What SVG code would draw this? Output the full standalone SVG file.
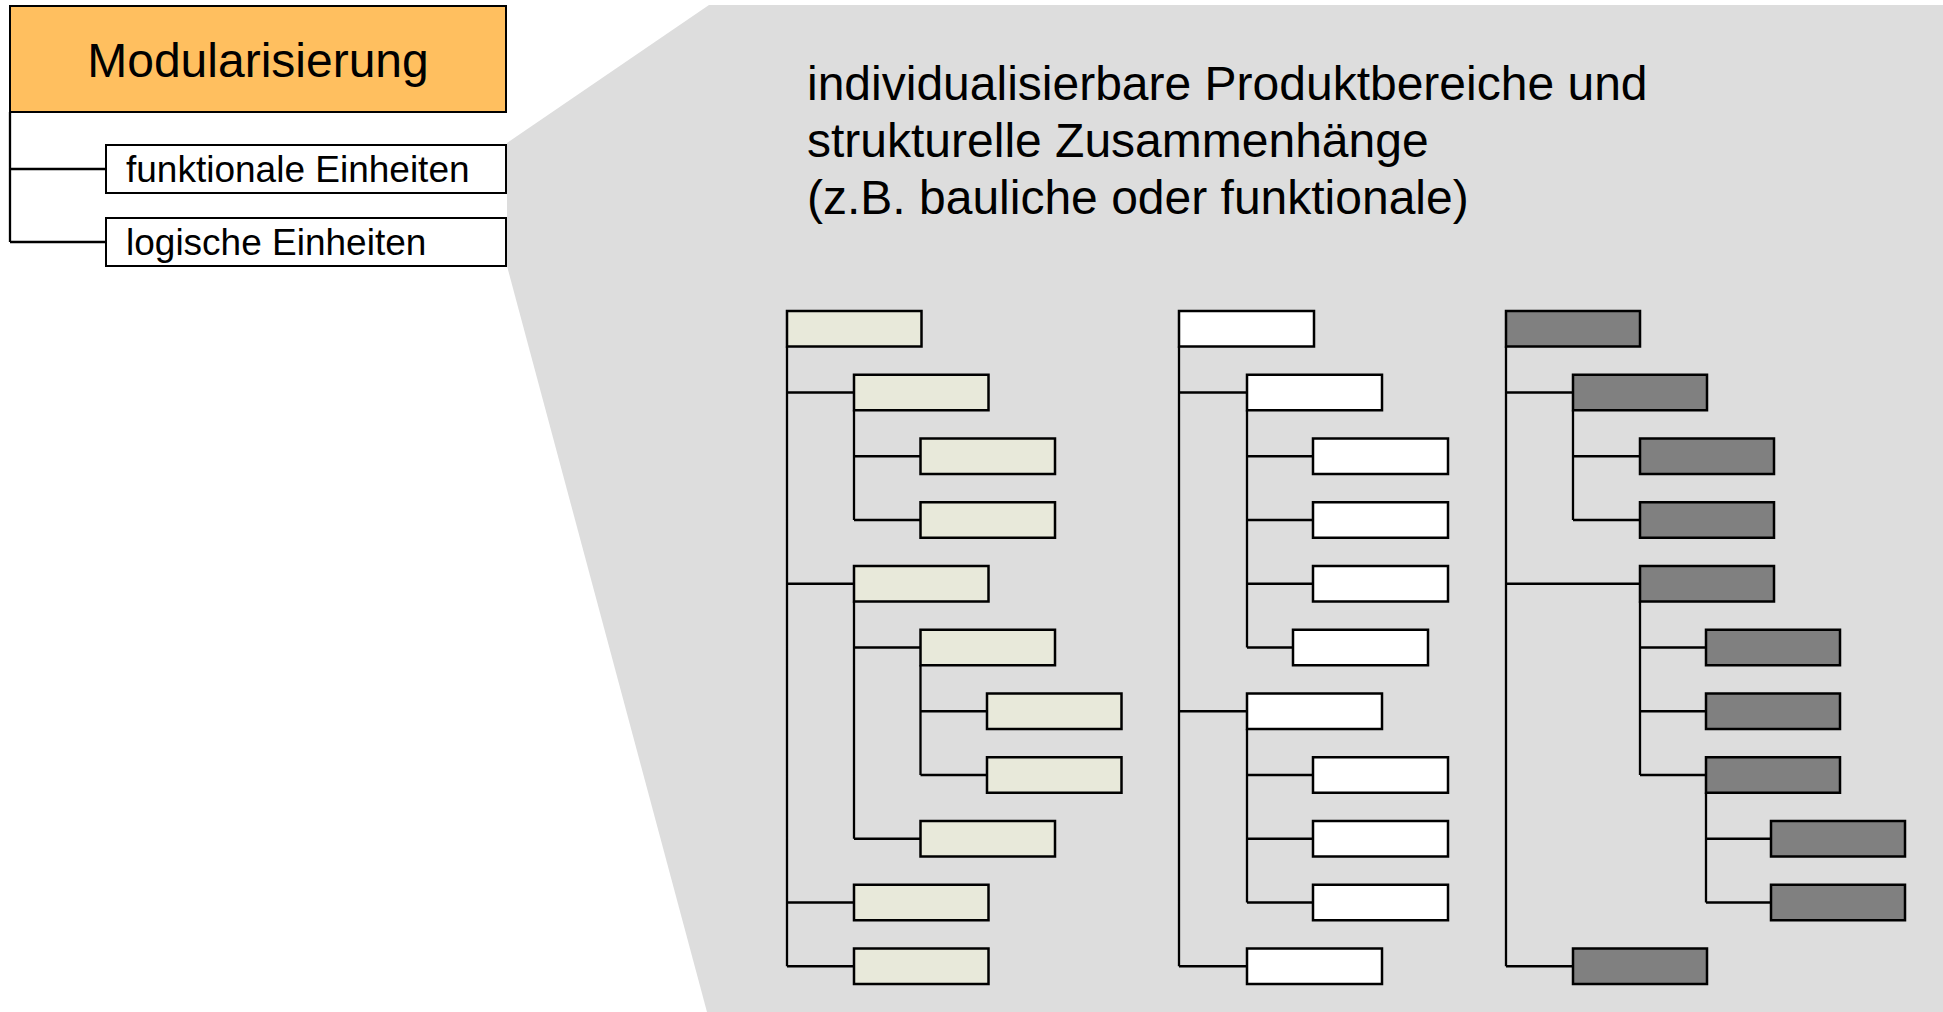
<svg xmlns="http://www.w3.org/2000/svg" width="1943" height="1012" viewBox="0 0 1943 1012">
<style>
text{font-family:"Liberation Sans",Arial,sans-serif;fill:#000}
.n rect{stroke:#000;stroke-width:2.5}
.b1{fill:#E8E9DA}.b2{fill:#FFFFFF}.b3{fill:#808080}
.c path{fill:none;stroke:#000;stroke-width:2.3}
</style>
<rect width="1943" height="1012" fill="#fff"/>
<polygon points="709,5 1943,5 1943,1012 707,1012 507,266 507,143" fill="#DDDDDD"/>
<g id="modularisierung" class="n"><rect x="10" y="6" width="496" height="106" fill="#FFBF5F" style="stroke-width:2"/><text x="258" y="77" font-size="48" text-anchor="middle">Modularisierung</text></g>
<g id="funktionale" class="n"><rect x="106" y="145" width="400" height="48" fill="#fff" style="stroke-width:2"/><text x="126" y="182" font-size="37">funktionale Einheiten</text></g>
<g id="logische" class="n"><rect x="106" y="218" width="400" height="48" fill="#fff" style="stroke-width:2"/><text x="126" y="255" font-size="37">logische Einheiten</text></g>
<g id="beschreibung"><text font-size="48"><tspan x="807" y="100">individualisierbare Produktbereiche und</tspan><tspan x="807" y="157">strukturelle Zusammenhänge</tspan><tspan x="807" y="214">(z.B. bauliche oder funktionale)</tspan></text></g>
<g id="connectors" class="c">
<path d="M10,112V242M10,169H106M10,242H106"/>
<path d="M787,346.5V966.25M787,392.5H854M787,583.75H854M787,902.5H854M787,966.25H854M854,410.25V520M854,456.25H920.5M854,520H920.5M854,601.5V838.75M854,647.5H920.5M854,838.75H920.5M920.5,665.25V775M920.5,711.25H987M920.5,775H987"/>
<path d="M1179,346.5V966.25M1179,392.5H1247M1179,711.25H1247M1179,966.25H1247M1247,410.25V647.5M1247,456.25H1313M1247,520H1313M1247,583.75H1313M1247,647.5H1293M1247,729V902.5M1247,775H1313M1247,838.75H1313M1247,902.5H1313"/>
<path d="M1506,346.5V966.25M1506,392.5H1573M1506,583.75H1640M1506,966.25H1573M1573,410.25V520M1573,456.25H1640M1573,520H1640M1640,601.5V775M1640,647.5H1706M1640,711.25H1706M1640,775H1706M1706,792.5V902.5M1706,838.75H1771M1706,902.5H1771"/>
</g>
<g id="baum1" class="n">
<rect id="t1r0" class="b1" x="787" y="311" width="134.5" height="35.5"/>
<rect id="t1r1" class="b1" x="854" y="374.75" width="134.5" height="35.5"/>
<rect id="t1r2" class="b1" x="920.5" y="438.5" width="134.5" height="35.5"/>
<rect id="t1r3" class="b1" x="920.5" y="502.25" width="134.5" height="35.5"/>
<rect id="t1r4" class="b1" x="854" y="566" width="134.5" height="35.5"/>
<rect id="t1r5" class="b1" x="920.5" y="629.75" width="134.5" height="35.5"/>
<rect id="t1r6" class="b1" x="987" y="693.5" width="134.5" height="35.5"/>
<rect id="t1r7" class="b1" x="987" y="757.25" width="134.5" height="35.5"/>
<rect id="t1r8" class="b1" x="920.5" y="821" width="134.5" height="35.5"/>
<rect id="t1r9" class="b1" x="854" y="884.75" width="134.5" height="35.5"/>
<rect id="t1r10" class="b1" x="854" y="948.5" width="134.5" height="35.5"/>
</g>
<g id="baum2" class="n">
<rect id="t2r0" class="b2" x="1179" y="311" width="135" height="35.5"/>
<rect id="t2r1" class="b2" x="1247" y="374.75" width="135" height="35.5"/>
<rect id="t2r2" class="b2" x="1313" y="438.5" width="135" height="35.5"/>
<rect id="t2r3" class="b2" x="1313" y="502.25" width="135" height="35.5"/>
<rect id="t2r4" class="b2" x="1313" y="566" width="135" height="35.5"/>
<rect id="t2r5" class="b2" x="1293" y="629.75" width="135" height="35.5"/>
<rect id="t2r6" class="b2" x="1247" y="693.5" width="135" height="35.5"/>
<rect id="t2r7" class="b2" x="1313" y="757.25" width="135" height="35.5"/>
<rect id="t2r8" class="b2" x="1313" y="821" width="135" height="35.5"/>
<rect id="t2r9" class="b2" x="1313" y="884.75" width="135" height="35.5"/>
<rect id="t2r10" class="b2" x="1247" y="948.5" width="135" height="35.5"/>
</g>
<g id="baum3" class="n">
<rect id="t3r0" class="b3" x="1506" y="311" width="134" height="35.5"/>
<rect id="t3r1" class="b3" x="1573" y="374.75" width="134" height="35.5"/>
<rect id="t3r2" class="b3" x="1640" y="438.5" width="134" height="35.5"/>
<rect id="t3r3" class="b3" x="1640" y="502.25" width="134" height="35.5"/>
<rect id="t3r4" class="b3" x="1640" y="566" width="134" height="35.5"/>
<rect id="t3r5" class="b3" x="1706" y="629.75" width="134" height="35.5"/>
<rect id="t3r6" class="b3" x="1706" y="693.5" width="134" height="35.5"/>
<rect id="t3r7" class="b3" x="1706" y="757.25" width="134" height="35.5"/>
<rect id="t3r8" class="b3" x="1771" y="821" width="134" height="35.5"/>
<rect id="t3r9" class="b3" x="1771" y="884.75" width="134" height="35.5"/>
<rect id="t3r10" class="b3" x="1573" y="948.5" width="134" height="35.5"/>
</g>
</svg>
